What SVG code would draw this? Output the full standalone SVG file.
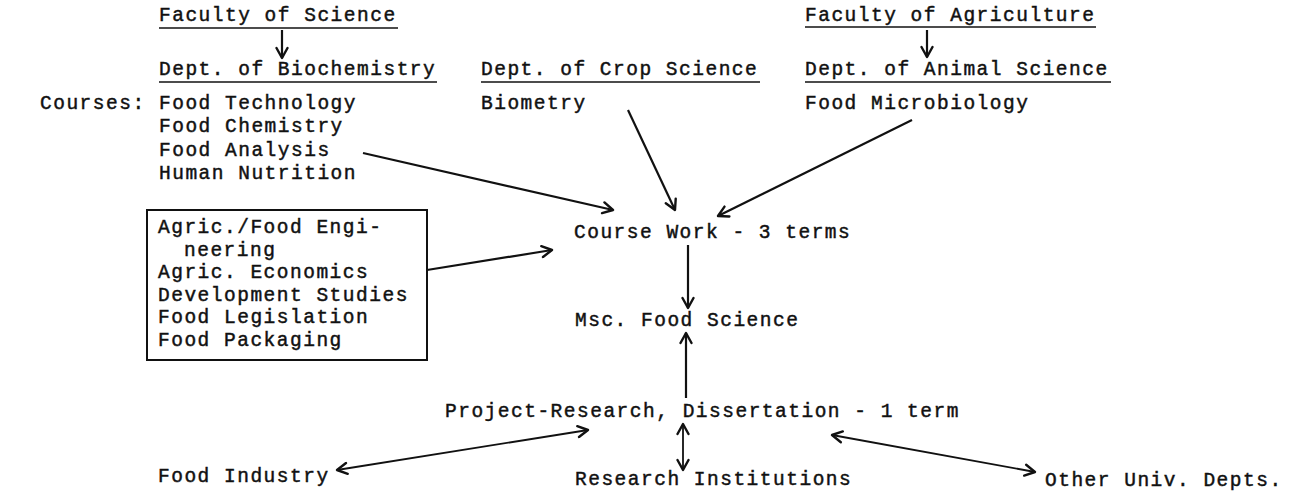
<svg xmlns="http://www.w3.org/2000/svg" width="1301" height="491" viewBox="0 0 1301 491">
  <style>
    .t { font-family: "Liberation Mono", "Courier New", monospace; font-size: 19.5px; letter-spacing: 1.5px; fill: #111; stroke: #111; stroke-width: 0.45px; }
    .ul { stroke: #111; stroke-width: 1.6; }
    .c { stroke: #111; stroke-width: 2.2; fill: none; marker-end: url(#ah); }
    .c2 { stroke: #111; stroke-width: 1.8; fill: none; marker-end: url(#ah); marker-start: url(#ah); }
    .box { fill: none; stroke: #111; stroke-width: 2; }
  </style>
  <defs>
    <marker id="ah" viewBox="0 0 14 14" refX="12" refY="7" markerWidth="14" markerHeight="14" markerUnits="userSpaceOnUse" orient="auto-start-reverse">
      <path d="M2,1.5 L12,7 L2,12.5" fill="none" stroke="#111" stroke-width="2.4" stroke-linecap="round" stroke-linejoin="round"/>
    </marker>
  </defs>
  <rect width="1301" height="491" fill="#fff"/>

  <g id="fac-sci">
    <text class="t" x="159" y="21">Faculty of Science</text>
    <line class="ul" x1="159" y1="28" x2="398" y2="28"/>
  </g>
  <g id="dept-bio">
    <text class="t" x="159" y="75">Dept. of Biochemistry</text>
    <line class="ul" x1="159" y1="82" x2="437" y2="82"/>
  </g>
  <g id="dept-crop">
    <text class="t" x="481" y="75">Dept. of Crop Science</text>
    <line class="ul" x1="481" y1="82" x2="760" y2="82"/>
  </g>
  <g id="fac-agri">
    <text class="t" x="805" y="21">Faculty of Agriculture</text>
    <line class="ul" x1="805" y1="27" x2="1096" y2="27"/>
  </g>
  <g id="dept-animal">
    <text class="t" x="805" y="75">Dept. of Animal Science</text>
    <line class="ul" x1="805" y1="82" x2="1111" y2="82"/>
  </g>
  <g id="courses-label">
    <text class="t" x="40" y="109">Courses:</text>
  </g>
  <g id="courses-bio">
    <text class="t" x="159" y="109">Food Technology</text>
    <text class="t" x="159" y="132">Food Chemistry</text>
    <text class="t" x="159" y="156">Food Analysis</text>
    <text class="t" x="159" y="179">Human Nutrition</text>
  </g>
  <g id="courses-crop">
    <text class="t" x="481" y="109">Biometry</text>
  </g>
  <g id="courses-animal">
    <text class="t" x="805" y="109">Food Microbiology</text>
  </g>
  <g id="box-other">
    <rect class="box" x="147" y="210" width="280" height="150"/>
    <text class="t" x="158" y="233">Agric./Food Engi-</text>
    <text class="t" x="184" y="255.5">neering</text>
    <text class="t" x="158" y="278">Agric. Economics</text>
    <text class="t" x="158" y="300.5">Development Studies</text>
    <text class="t" x="158" y="323">Food Legislation</text>
    <text class="t" x="158" y="345.5">Food Packaging</text>
  </g>
  <g id="course-work">
    <text class="t" x="574" y="238">Course Work - 3 terms</text>
  </g>
  <g id="msc">
    <text class="t" x="575" y="326">Msc. Food Science</text>
  </g>
  <g id="project">
    <text class="t" x="445" y="417">Project-Research, Dissertation - 1 term</text>
  </g>
  <g id="food-industry">
    <text class="t" x="158" y="482">Food Industry</text>
  </g>
  <g id="research-inst">
    <text class="t" x="575" y="485">Research Institutions</text>
  </g>
  <g id="other-univ">
    <text class="t" x="1045" y="486">Other Univ. Depts.</text>
  </g>

  <g id="connectors">
    <line class="c" x1="282" y1="30" x2="282" y2="58"/>
    <line class="c" x1="927" y1="30" x2="927" y2="57"/>
    <line class="c" x1="363" y1="153" x2="613" y2="210"/>
    <line class="c" x1="628" y1="110" x2="675" y2="210"/>
    <line class="c" x1="912" y1="120" x2="718" y2="216"/>
    <line class="c" x1="427" y1="270" x2="552" y2="250"/>
    <line class="c" x1="688" y1="245" x2="688" y2="308"/>
    <line class="c" x1="686" y1="398" x2="686" y2="333"/>
    <line class="c2" x1="683" y1="424" x2="683" y2="470"/>
    <line class="c2" x1="588" y1="430" x2="337" y2="470"/>
    <line class="c2" x1="832" y1="435" x2="1035" y2="472"/>
  </g>
</svg>
